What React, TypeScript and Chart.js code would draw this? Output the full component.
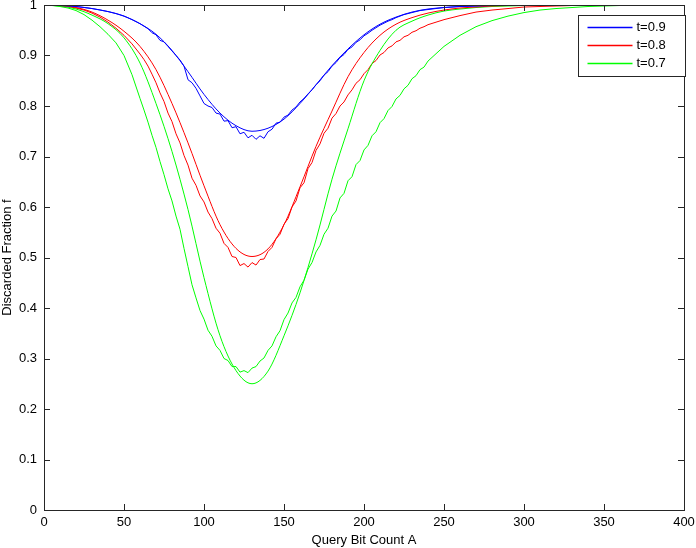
import React, { useEffect, useRef } from "react";
import { Chart, registerables } from "chart.js";

Chart.register(...registerables);

// ---------- data ----------
const xSmooth = [
  0, 10, 20, 30, 40, 50, 60, 70, 80, 90,
  100, 110, 120, 130, 140, 150, 160, 170, 180, 190,
  200, 210, 220, 230, 240, 250, 260, 270, 280, 290,
  300, 310, 320, 330, 340, 350, 360, 370, 380, 390, 400,
];

const blueSmooth = [
  1.0, 0.999, 0.997, 0.993, 0.987, 0.978, 0.963, 0.942, 0.91, 0.868,
  0.823, 0.786, 0.761, 0.75, 0.756, 0.774, 0.805, 0.842, 0.88, 0.913,
  0.941, 0.962, 0.976, 0.986, 0.992, 0.995, 0.997, 0.998, 0.999, 1.0,
  1, 1, 1, 1, 1, 1, 1, 1, 1, 1, 1,
];

const redSmooth = [
  1.0, 0.999, 0.995, 0.986, 0.97, 0.948, 0.918, 0.872, 0.805, 0.727,
  0.642, 0.565, 0.518, 0.502, 0.517, 0.565, 0.64, 0.72, 0.79, 0.858,
  0.906, 0.94, 0.962, 0.975, 0.984, 0.99, 0.994, 0.996, 0.998, 0.999,
  1, 1, 1, 1, 1, 1, 1, 1, 1, 1, 1,
];

const greenSmooth = [
  1.0, 0.998, 0.992, 0.98, 0.963, 0.935, 0.885, 0.805, 0.71, 0.595,
  0.46, 0.345, 0.276, 0.25, 0.275, 0.345, 0.43, 0.535, 0.655, 0.755,
  0.85, 0.91, 0.95, 0.968, 0.98, 0.988, 0.992, 0.995, 0.997, 0.998,
  0.999, 1, 1, 1, 1, 1, 1, 1, 1, 1, 1,
];

const xNoisy = [
  0, 5, 10, 15, 20, 25, 30, 35, 40, 45, 50, 55,
  60, 62.5, 65, 67.5, 70, 72.5, 75, 77.5, 80, 82.5,
  85, 87.5, 90, 92.5, 95, 97.5, 100, 102.5, 105, 107.5,
  110, 112.5, 115, 117.5, 120, 122.5, 125, 127.5, 130, 132.5,
  135, 137.5, 140, 142.5, 145, 147.5, 150, 152.5, 155, 157.5,
  160, 162.5, 165, 167.5, 170, 172.5, 175, 177.5, 180, 182.5,
  185, 187.5, 190, 192.5, 195, 197.5, 200, 202.5, 205, 207.5,
  210, 212.5, 215, 217.5, 220, 222.5, 225, 227.5, 230, 232.5,
  235, 237.5, 240,
  250, 260, 270, 280, 290, 300, 310, 320, 330, 340, 350, 360, 370, 380, 390, 400,
];

const blueNoisy = [
  1.0, 1.0, 0.999, 0.998, 0.997, 0.995, 0.993, 0.99, 0.987, 0.983, 0.978, 0.971,
  0.963, 0.958, 0.953, 0.945, 0.941, 0.93, 0.927, 0.918, 0.909, 0.9,
  0.891, 0.879, 0.852, 0.846, 0.835, 0.82, 0.805, 0.8, 0.797, 0.786,
  0.784, 0.77, 0.771, 0.757, 0.759, 0.745, 0.748, 0.737, 0.742, 0.734,
  0.741, 0.736, 0.749, 0.754, 0.766, 0.768, 0.778, 0.782, 0.792, 0.798,
  0.808, 0.815, 0.824, 0.832, 0.842, 0.85, 0.861, 0.868, 0.879, 0.886,
  0.896, 0.902, 0.912, 0.917, 0.926, 0.931, 0.939, 0.944, 0.95, 0.955,
  0.96, 0.964, 0.968, 0.971, 0.975, 0.978, 0.981, 0.983, 0.985, 0.987,
  0.989, 0.99, 0.991,
  0.995, 0.997, 0.998, 0.999, 1, 1, 1, 1, 1, 1, 1, 1, 1, 1, 1, 1,
];

const redNoisy = [
  1.0, 1.0, 0.999, 0.997, 0.994, 0.99, 0.984, 0.976, 0.966, 0.954, 0.94, 0.923,
  0.903, 0.892, 0.879, 0.863, 0.846, 0.826, 0.809, 0.786, 0.769, 0.745,
  0.727, 0.702, 0.683, 0.657, 0.643, 0.622, 0.61, 0.59, 0.577, 0.558,
  0.548, 0.528, 0.52, 0.502, 0.5, 0.484, 0.488, 0.481, 0.49, 0.485,
  0.496, 0.497, 0.512, 0.52, 0.537, 0.546, 0.566, 0.577, 0.6, 0.612,
  0.638, 0.648, 0.676, 0.688, 0.712, 0.725, 0.746, 0.756, 0.776, 0.785,
  0.8, 0.808, 0.822, 0.832, 0.845, 0.852, 0.864, 0.872, 0.884, 0.89,
  0.901, 0.906, 0.915, 0.919, 0.927, 0.93, 0.937, 0.94, 0.946, 0.949,
  0.954, 0.957, 0.961,
  0.971, 0.979, 0.986, 0.99, 0.993, 0.996, 0.997, 0.998, 0.999, 0.999, 1, 1, 1, 1, 1, 1,
];

const greenNoisy = [
  1.0, 0.999, 0.997, 0.994, 0.989, 0.981, 0.97, 0.957, 0.942, 0.925, 0.9, 0.862,
  0.815, 0.792, 0.768, 0.742, 0.718, 0.69, 0.664, 0.636, 0.612, 0.582,
  0.556, 0.518, 0.482, 0.446, 0.42, 0.395, 0.378, 0.356, 0.344, 0.325,
  0.316, 0.3, 0.296, 0.284, 0.284, 0.273, 0.276, 0.272, 0.281, 0.284,
  0.295, 0.301, 0.316, 0.325, 0.343, 0.355, 0.377, 0.39, 0.41, 0.421,
  0.442, 0.455, 0.477, 0.49, 0.511, 0.524, 0.546, 0.558, 0.582, 0.592,
  0.618, 0.627, 0.652, 0.66, 0.684, 0.692, 0.713, 0.722, 0.741, 0.749,
  0.767, 0.775, 0.791, 0.799, 0.814, 0.821, 0.834, 0.841, 0.854, 0.86,
  0.872, 0.877, 0.889,
  0.918, 0.94, 0.957, 0.969, 0.978, 0.985, 0.99, 0.993, 0.995, 0.997, 0.998, 0.999, 1, 1, 1, 1,
];

const legendLabels = ["t=0.9", "t=0.8", "t=0.7"];
const seriesColors = ["#0000ff", "#ff0000", "#00ff00"];
const xTitle = "Query Bit Count A";
const yTitle = "Discarded Fraction f";

// ---------- helpers ----------
const FONT_FAMILY = "'Liberation Sans', Arial, Helvetica, sans-serif";
const AXIS_COLOR = "#262626";

function toPoints(xs: number[], ys: number[]) {
  return xs.map((x, i) => ({ x, y: ys[i] }));
}

const framePlugin = {
  id: "matlabFrame",
  afterDraw(chart: any) {
    const ctx = chart.ctx as CanvasRenderingContext2D;
    const { left, right, top, bottom } = chart.chartArea;
    const sx = chart.scales.x;
    const sy = chart.scales.y;
    const tl = 6;
    ctx.save();
    ctx.strokeStyle = AXIS_COLOR;
    ctx.lineWidth = 1;
    ctx.beginPath();
    for (const t of sx.ticks) {
      const px = Math.round(sx.getPixelForValue(t.value)) + 0.5;
      ctx.moveTo(px, bottom);
      ctx.lineTo(px, bottom - tl);
      ctx.moveTo(px, top);
      ctx.lineTo(px, top + tl);
    }
    for (const t of sy.ticks) {
      const py = Math.round(sy.getPixelForValue(t.value)) + 0.5;
      ctx.moveTo(left, py);
      ctx.lineTo(left + tl, py);
      ctx.moveTo(right, py);
      ctx.lineTo(right - tl, py);
    }
    ctx.stroke();
    ctx.strokeRect(left + 0.5, top + 0.5, right - left, bottom - top);

    // legend box (MATLAB style)
    const bw = 107;
    const bh = 61;
    const bx = Math.round(right - bw + 1) + 0.5;
    const by = Math.round(top + 10) + 0.5;
    ctx.fillStyle = "#ffffff";
    ctx.fillRect(bx, by, bw, bh);
    ctx.strokeStyle = AXIS_COLOR;
    ctx.strokeRect(bx, by, bw, bh);
    ctx.font = `13px ${FONT_FAMILY}`;
    ctx.textBaseline = "middle";
    ctx.textAlign = "left";
    legendLabels.forEach((lab, i) => {
      const ly = Math.round(by + 11 + i * 18) + 0.5;
      ctx.strokeStyle = seriesColors[i];
      ctx.lineWidth = 1.5;
      ctx.beginPath();
      ctx.moveTo(bx + 9, ly);
      ctx.lineTo(bx + 54, ly);
      ctx.stroke();
      ctx.fillStyle = "#000000";
      ctx.fillText(lab, bx + 58, ly);
    });
    ctx.restore();
  },
};

export default function App() {
  const canvasRef = useRef<HTMLCanvasElement | null>(null);

  useEffect(() => {
    const canvas = canvasRef.current;
    if (!canvas) return;

    const smoothSets = [blueSmooth, redSmooth, greenSmooth];
    const noisySets = [blueNoisy, redNoisy, greenNoisy];

    const datasets: any[] = [];
    smoothSets.forEach((ys, i) => {
      datasets.push({
        label: legendLabels[i],
        data: toPoints(xSmooth, ys),
        borderColor: seriesColors[i],
        backgroundColor: seriesColors[i],
        borderWidth: 1,
        pointRadius: 0,
        fill: false,
        cubicInterpolationMode: "monotone",
      });
    });
    noisySets.forEach((ys, i) => {
      datasets.push({
        label: legendLabels[i] + " (sim)",
        data: toPoints(xNoisy, ys),
        borderColor: seriesColors[i],
        backgroundColor: seriesColors[i],
        borderWidth: 1,
        pointRadius: 0,
        fill: false,
        tension: 0,
      });
    });

    const tickFont = { family: FONT_FAMILY, size: 13 };

    const chart = new Chart(canvas, {
      type: "line",
      data: { datasets },
      options: {
        animation: false,
        responsive: false,
        devicePixelRatio: 1,
        layout: { padding: { top: 5, right: 12, bottom: 0, left: 0 } },
        plugins: {
          legend: { display: false },
          tooltip: { enabled: false },
          title: { display: false },
        },
        scales: {
          x: {
            type: "linear",
            min: 0,
            max: 400,
            grid: { display: false, drawTicks: false },
            border: { display: false },
            ticks: {
              stepSize: 50,
              autoSkip: false,
              maxRotation: 0,
              padding: 5,
              color: "#000",
              font: tickFont,
              callback: (v: any) => String(v),
            },
            title: {
              display: true,
              text: xTitle,
              color: "#000",
              font: { family: FONT_FAMILY, size: 13, lineHeight: 1.2 },
              padding: { top: 0, bottom: 0 },
            },
            afterFit: (s: any) => {
              s.height = 38;
              s.paddingLeft = 0;
              s.paddingRight = 0;
            },
          },
          y: {
            type: "linear",
            min: 0,
            max: 1,
            grid: { display: false, drawTicks: false },
            border: { display: false },
            ticks: {
              stepSize: 0.1,
              autoSkip: false,
              padding: 7,
              color: "#000",
              font: tickFont,
              callback: (v: any) => String(Math.round(Number(v) * 10) / 10),
            },
            title: {
              display: true,
              text: yTitle,
              color: "#000",
              font: { family: FONT_FAMILY, size: 13, lineHeight: 1.2 },
              padding: { top: 0, bottom: 0 },
            },
            afterFit: (s: any) => {
              s.width = 44;
              s.paddingTop = 0;
              s.paddingBottom = 0;
            },
          },
        },
      },
      plugins: [framePlugin],
    } as any);

    return () => {
      chart.destroy();
    };
  }, []);

  return (
    <div style={{ position: "fixed", left: 0, top: 0, width: 696, height: 548, background: "#fff" }}>
      <canvas ref={canvasRef} width={696} height={548} style={{ display: "block" }} />
    </div>
  );
}
